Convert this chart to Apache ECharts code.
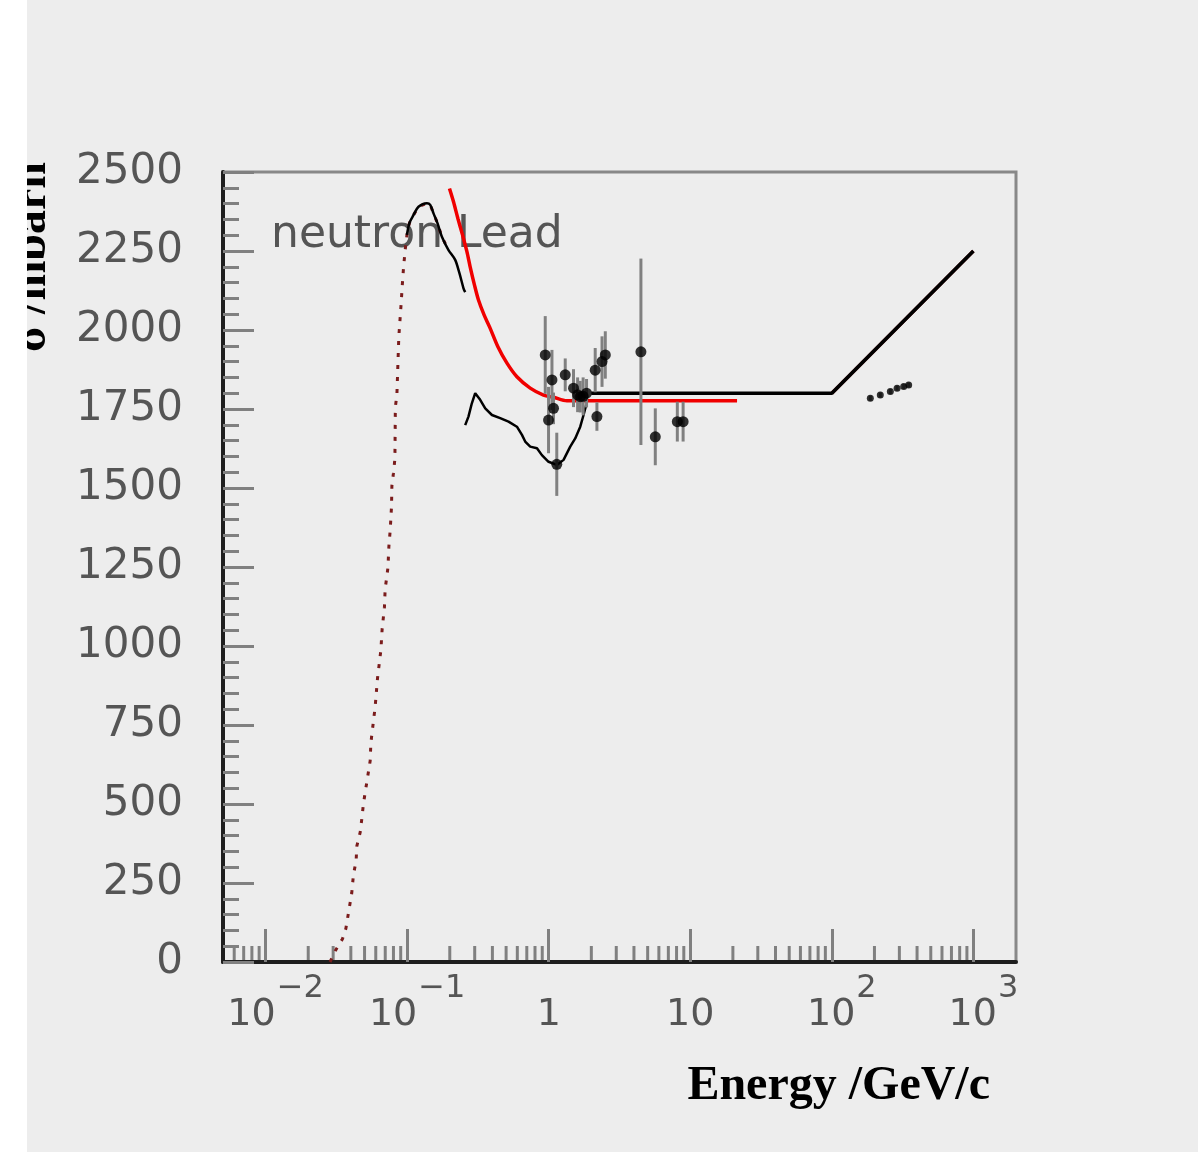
<!DOCTYPE html>
<html>
<head>
<meta charset="utf-8">
<script src="https://cdn.jsdelivr.net/npm/echarts@6/dist/echarts.min.js"></script>
<style>
  html, body { margin: 0; padding: 0; background: #ffffff; }
  #chart { position: absolute; left: 27px; top: 0; width: 1171px; height: 1152px; background: #ededed; }
</style>
</head>
<body>
<div id="chart"></div>
<script>
// Low-energy model (dark red): momentum GeV/c, cross section mbarn
var modelLowE = [0.0285, 0.0313, 0.0349, 0.0369, 0.0391, 0.0406, 0.0417, 0.0436, 0.0441, 0.0466, 0.0479, 0.0491,
  0.0519, 0.0548, 0.0554, 0.0578, 0.0594, 0.0617, 0.0652, 0.0666, 0.0691, 0.0699, 0.0731, 0.0743, 0.0759, 0.0775,
  0.0780, 0.0800, 0.0819, 0.0822, 0.0825, 0.0846, 0.0873, 0.0907, 0.0922, 0.0942, 0.0968, 0.0996, 0.1038, 0.1109,
  0.1202, 0.1378, 0.1455, 0.1535, 0.1637, 0.1759, 0.1959];
var modelLowSigma = [0, 38, 73, 106, 174, 218, 275, 321, 367, 411, 456, 501,
  570, 637, 693, 763, 807, 897, 987, 1055, 1123, 1180, 1247, 1316, 1367, 1440,
  1507, 1547, 1592, 1666, 1756, 1794, 1979, 2085, 2137, 2196, 2253, 2301, 2339, 2364,
  2390, 2401, 2396, 2369, 2338, 2295, 2253];

// High-energy model (dark red) under the black extrapolation
var modelHighE = [100, 1000];
var modelHighSigma = [1800, 2250];

// Black curve around the resonance peak
var peakE = [0.0996, 0.1038, 0.1109, 0.1202, 0.1378, 0.1455, 0.1535, 0.1637, 0.1759, 0.1959, 0.2184, 0.2343, 0.2500, 0.2570];
var peakSigma = [2301, 2339, 2364, 2390, 2401, 2396, 2369, 2338, 2295, 2253, 2222, 2179, 2132, 2120];

// Red parametrisation
var redE = [0.199, 0.2125, 0.2282, 0.246, 0.2643, 0.2786, 0.299, 0.319, 0.350, 0.382, 0.4375, 0.507,
  0.596, 0.740, 0.919, 1.081, 1.345, 21.4];
var redSigma = [2448, 2406, 2353, 2301, 2248, 2200, 2142, 2095, 2047, 2010, 1947, 1895,
  1852, 1816, 1794, 1787, 1776, 1776];

// Black curve through the dip around 1 GeV/c
var dipE = [0.257, 0.271, 0.2864, 0.3025, 0.328, 0.356, 0.397, 0.454, 0.520, 0.596, 0.647, 0.682, 0.740, 0.826,
  0.895, 0.997, 1.142, 1.273, 1.419, 1.539, 1.670, 1.762, 1.84];
var dipSigma = [1699, 1726, 1768, 1800, 1779, 1752, 1731, 1721, 1710, 1694, 1668, 1647, 1631, 1626,
  1604, 1583, 1573, 1589, 1631, 1657, 1694, 1731, 1763];

// Black plateau and high-energy rise
var plateauE = [2.0, 100, 1000];
var plateauSigma = [1800, 1800, 2250];

// Measurements with errors
var dataE = [0.945, 1.054, 1.081, 0.997, 1.14, 1.308, 1.497, 1.60, 1.67, 1.75, 1.85, 2.19, 2.13, 2.38, 2.51,
  4.48, 5.66, 8.1, 8.9, 187, 220, 259, 289, 322, 349];
var dataSigma = [1921, 1842, 1752, 1715, 1575, 1858, 1816, 1795, 1789, 1790, 1800, 1726, 1873, 1900, 1921,
  1931, 1662, 1710, 1710, 1784, 1794, 1805, 1816, 1821, 1826];
var dataErr = [123, 95, 50, 105, 100, 52, 60, 55, 50, 60, 45, 45, 70, 80, 75,
  295, 90, 63, 63, 8, 8, 8, 8, 8, 8];

// Axis tick values
var yTicks = [0, 250, 500, 750, 1000, 1250, 1500, 1750, 2000, 2250, 2500];
var xMinorTicks = [0.006, 0.007, 0.008, 0.009,
  0.02, 0.03, 0.04, 0.05, 0.06, 0.07, 0.08, 0.09,
  0.2, 0.3, 0.4, 0.5, 0.6, 0.7, 0.8, 0.9,
  2, 3, 4, 5, 6, 7, 8, 9,
  20, 30, 40, 50, 60, 70, 80, 90,
  200, 300, 400, 500, 600, 700, 800, 900];

function pairs(xs, ys) { return xs.map(function (x, i) { return [x, ys[i]]; }); }

var labelColor = '#555555';
var tickColor = '#808080';

var chart = echarts.init(document.getElementById('chart'), null, { renderer: 'canvas' });

chart.setOption({
  animation: false,
  backgroundColor: '#ededed',
  grid: {
    left: 196, right: 182, top: 172, bottom: 190,
    show: true, borderColor: '#888888', borderWidth: 3, backgroundColor: 'transparent'
  },
  xAxis: {
    type: 'log', logBase: 10, min: 0.005, max: 2000,
    axisLine: { lineStyle: { color: '#1e1e1e', width: 4 } },
    axisTick: { inside: true, length: 33, lineStyle: { color: tickColor, width: 3 } },
    splitLine: { show: false },
    minorTick: { show: false },
    axisLabel: {
      showMinLabel: false, showMaxLabel: false,
      margin: 6,
      formatter: function (v) {
        var l = Math.log10(v), e = Math.round(l);
        if (Math.abs(l - e) > 1e-6) return '';
        if (e === 0) return '{b|1}';
        if (e === 1) return '{b|10}';
        return '{bp|10}{s|' + (e < 0 ? '\u2212' + (-e) : e) + '}';
      },
      rich: {
        b: { fontFamily: 'DejaVu Sans', fontSize: 38, color: labelColor, verticalAlign: 'bottom', lineHeight: 66 },
        bp: { fontFamily: 'DejaVu Sans', fontSize: 38, color: labelColor, verticalAlign: 'bottom', lineHeight: 66, padding: [0, 0, 0, 20] },
        s: { fontFamily: 'DejaVu Sans', fontSize: 32, color: labelColor, verticalAlign: 'top', lineHeight: 66, padding: [5, 0, 0, 1] }
      }
    }
  },
  yAxis: {
    type: 'value', min: yTicks[0], max: yTicks[yTicks.length - 1], interval: 250,
    axisLine: { lineStyle: { color: '#1e1e1e', width: 4 } },
    axisTick: { inside: true, length: 31, lineStyle: { color: tickColor, width: 3 } },
    minorTick: { show: true, splitNumber: 5, length: 16, lineStyle: { color: tickColor, width: 3 } },
    splitLine: { show: false },
    axisLabel: {
      margin: 40, fontFamily: 'DejaVu Sans', fontSize: 42, color: labelColor,
      formatter: function (v) { return String(v); }
    }
  },
  graphic: [
    { type: 'text', x: 244, y: 236, silent: true,
      style: { text: 'neutron Lead', font: '44px "DejaVu Sans"', fill: '#555555', textAlign: 'left', textVerticalAlign: 'middle' } },
    { type: 'text', x: 963, y: 1087, silent: true,
      style: { text: 'Energy /GeV/c', font: 'bold 48px "Liberation Serif"', fill: '#000000', textAlign: 'right', textVerticalAlign: 'middle' } },
    { type: 'text', x: 6, y: 257, rotation: Math.PI / 2, silent: true,
      style: { text: '\u03c3 /mbarn', font: 'bold 48px "Liberation Serif"', fill: '#000000', textAlign: 'center', textVerticalAlign: 'middle' } }
  ],
  series: [
    {
      name: 'x minor ticks', type: 'custom', silent: true, clip: false, z: 1,
      data: xMinorTicks.map(function (v) { return [v, 0]; }),
      renderItem: function (params, api) {
        var p = api.coord([api.value(0), 0]);
        return { type: 'line', shape: { x1: p[0], y1: p[1] - 2, x2: p[0], y2: p[1] - 16 },
          style: { stroke: tickColor, lineWidth: 3 } };
      }
    },
    {
      name: 'model low', type: 'line', symbol: 'none', z: 3,
      data: pairs(modelLowE, modelLowSigma),
      lineStyle: { color: '#7b1c1c', width: 3, type: [4, 8] }
    },
    {
      name: 'model high', type: 'line', symbol: 'none', z: 3,
      data: pairs(modelHighE, modelHighSigma),
      lineStyle: { color: '#7b1c1c', width: 3.5 }
    },
    {
      name: 'peak', type: 'line', symbol: 'none', z: 4, smooth: 0.3,
      data: pairs(peakE, peakSigma),
      lineStyle: { color: '#000000', width: 2.5 }
    },
    {
      name: 'parametrisation', type: 'line', symbol: 'none', z: 4, smooth: 0.3,
      data: pairs(redE, redSigma),
      lineStyle: { color: '#f00000', width: 3.5 }
    },
    {
      name: 'dip', type: 'line', symbol: 'none', z: 4,
      data: pairs(dipE, dipSigma),
      lineStyle: { color: '#000000', width: 2.5 }
    },
    {
      name: 'plateau', type: 'line', symbol: 'none', z: 5,
      data: pairs(plateauE, plateauSigma),
      lineStyle: { color: '#000000', width: 3.5 }
    },
    {
      name: 'errors', type: 'custom', silent: true, z: 6,
      data: dataE.map(function (x, i) { return [x, dataSigma[i], dataErr[i]]; }),
      renderItem: function (params, api) {
        var x = api.value(0), y = api.value(1), e = api.value(2);
        var a = api.coord([x, y + e]), b = api.coord([x, y - e]);
        return { type: 'line', shape: { x1: a[0], y1: a[1], x2: b[0], y2: b[1] },
          style: { stroke: '#808080', lineWidth: 3 } };
      }
    },
    {
      name: 'data', type: 'scatter', symbol: 'circle', z: 7,
      symbolSize: function (v) { return v[0] > 100 ? 7 : 11; },
      data: pairs(dataE, dataSigma),
      itemStyle: { color: '#000000' }
    }
  ]
});
</script>
</body>
</html>
